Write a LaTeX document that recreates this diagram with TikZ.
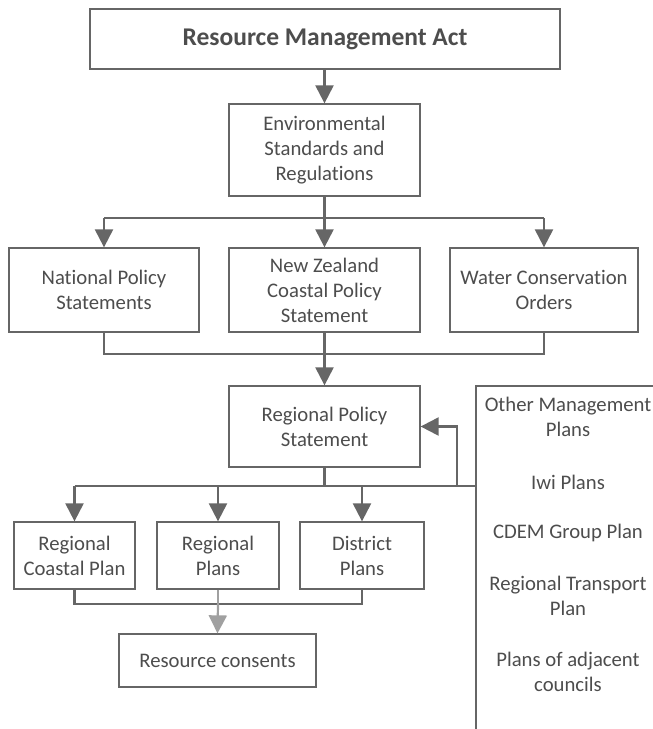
\documentclass[tikz,border=0pt]{standalone}
\usepackage{fontspec}
\setmainfont[Ligatures=NoCommon]{Carlito}
\usetikzlibrary{arrows.meta}
\definecolor{ln}{HTML}{666666}
\definecolor{lnfaint}{HTML}{A0A0A0}
\definecolor{tx}{HTML}{4D4D4D}
\begin{document}
\begin{tikzpicture}[x=1pt,y=-1pt,
  box/.style={draw=ln,line width=1.3pt,text=tx,align=center,inner sep=0pt,
              font=\fontsize{20.7}{25}\selectfont},
  txt/.style={text=tx,align=center,inner sep=0pt,font=\fontsize{20.7}{25}\selectfont},
  conn/.style={draw=ln,line width=2.2pt},
  faint/.style={draw=lnfaint,line width=2.2pt},
  arr/.style={conn,-{Triangle[length=18pt,width=18pt]}},
  farr/.style={faint,-{Triangle[length=18pt,width=18pt,fill=lnfaint]}},
  panel/.style={draw=ln,line width=1.5pt}]
\useasboundingbox (0,0) rectangle (653,729);
\fill[white] (0,0) rectangle (653,729);

% boxes
\node[box,minimum width=470pt,minimum height=60pt] (rma) at (325,39)
  {\fontsize{25.5}{30}\selectfont\bfseries Resource Management Act};
\node[box,minimum width=191pt,minimum height=92pt] (esr) at (324.5,150)
  {Environmental\\Standards and\\Regulations};
\node[box,minimum width=190pt,minimum height=84pt] (nps) at (104,290)
  {National Policy\\Statements};
\node[box,minimum width=191pt,minimum height=84pt] (nzc) at (324.5,290)
  {New Zealand\\Coastal Policy\\Statement};
\node[box,minimum width=188pt,minimum height=84pt] (wco) at (544,290)
  {Water Conservation\\Orders};
\node[box,minimum width=191pt,minimum height=81pt] (rps) at (324.5,426.5)
  {Regional Policy\\Statement};
\node[box,minimum width=121pt,minimum height=67pt] (rcp) at (74.5,555.5)
  {Regional\\Coastal Plan};
\node[box,minimum width=122pt,minimum height=67pt] (rp) at (218,555.5)
  {Regional\\Plans};
\node[box,minimum width=124pt,minimum height=67pt] (dp) at (362,555.5)
  {District\\Plans};
\node[box,minimum width=197pt,minimum height=53pt] (rc) at (217.5,660.5)
  {Resource consents};

% right panel texts
\node[txt] (omp) at (568,416.5) {Other Management\\Plans};
\node[txt] (iwi) at (568,482) {Iwi Plans};
\node[txt] (cdem) at (568,533) {CDEM Group Plan};
\node[txt] (rtp) at (568,595.5) {Regional Transport\\Plan};
\node[txt] (poa) at (568,671.5) {Plans of adjacent\\councils};

% junction coordinates
\coordinate (s1) at (324.5,218);
\coordinate (m1) at (324.5,354);
\coordinate (s2) at (324.5,486);
\coordinate (s2r) at (476,486);
\coordinate (fb) at (457,486);
\coordinate (m2) at (217.5,604);
\coordinate (ptop) at (476,386);
\coordinate (pbot) at (476,729);
\coordinate (pright) at (653,386);

% connectors
\draw[arr] (esr.north |- rma.south) -- (esr.north);
\draw[conn] (esr.south) -- (s1);
\draw[conn] (nps.north |- s1) -- (wco.north |- s1);
\draw[arr] (nps.north |- s1) -- (nps.north);
\draw[arr] (s1) -- (nzc.north);
\draw[arr] (wco.north |- s1) -- (wco.north);

\draw[conn] (nps.south) -- (nps.south |- m1) -- (wco.south |- m1) -- (wco.south);
\draw[arr] (nzc.south) -- (rps.north);

\draw[conn] (rps.south) -- (s2);
\draw[conn] (rcp.north |- s2) -- (s2r);
\draw[arr] (rcp.north |- s2) -- (rcp.north);
\draw[arr] (rp.north |- s2) -- (rp.north);
\draw[arr] (dp.north |- s2) -- (dp.north);
\draw[arr] (fb) -- (fb |- rps.east) -- (rps.east);

\draw[panel] (pbot) -- (ptop) -- (pright);

\draw[conn] (rcp.south) -- (rcp.south |- m2) -- (dp.south |- m2) -- (dp.south);
\draw[faint] (rp.south) -- (rp.south |- m2);
\draw[farr] (rp.south |- m2) -- (rc.north);
\end{tikzpicture}
\end{document}
